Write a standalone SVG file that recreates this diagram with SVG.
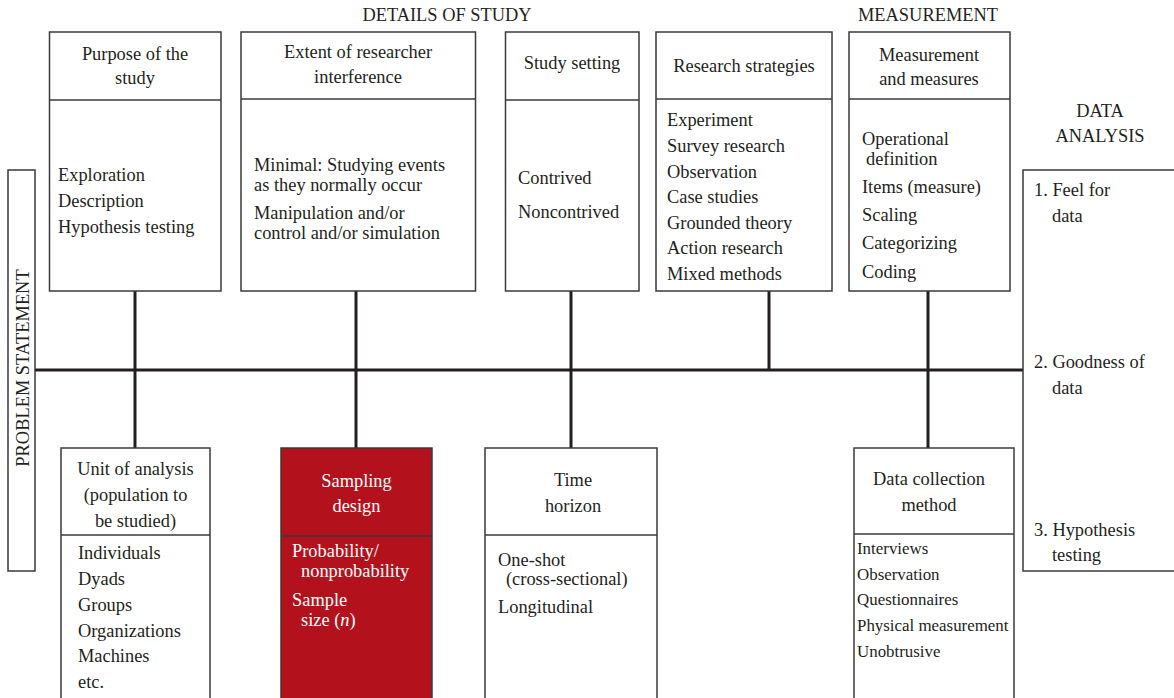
<svg xmlns="http://www.w3.org/2000/svg" width="1174" height="698" viewBox="0 0 1174 698">
<style>
text{font-family:"Liberation Serif","Times New Roman",serif;font-size:18.4px;fill:#231f20}
.c{text-anchor:middle}
.box{fill:#fff;stroke:#3a3a3a;stroke-width:1.5}
.div{stroke:#3a3a3a;stroke-width:1.5}
.red{fill:#b3121c;stroke:#3a3a3a;stroke-width:1.5}
.w{fill:#fff}
.sm{font-size:16.9px}
.conn{stroke:#231f20;stroke-width:3;fill:none}
</style>
<rect width="1174" height="698" fill="#fff"/>
<g id="headings">
<text class="c" x="447" y="21">DETAILS OF STUDY</text>
<text class="c" x="928" y="21">MEASUREMENT</text>
<text class="c" x="1100" y="117">DATA</text>
<text class="c" x="1100" y="142">ANALYSIS</text>
</g>
<g id="connectors">
<line class="conn" x1="35" y1="370" x2="1023" y2="370"/>
<line class="conn" x1="135" y1="291" x2="135" y2="448"/>
<line class="conn" x1="356" y1="291" x2="356" y2="448"/>
<line class="conn" x1="571" y1="291" x2="571" y2="448"/>
<line class="conn" x1="769" y1="291" x2="769" y2="370"/>
<line class="conn" x1="928" y1="291" x2="928" y2="448"/>
</g>
<g id="problem-statement">
<rect class="box" x="8" y="170" width="27" height="401"/>
<text class="c" transform="translate(29,368) rotate(-90)">PROBLEM STATEMENT</text>
</g>
<g id="purpose">
<rect class="box" x="49.5" y="32" width="171.5" height="259"/>
<line class="div" x1="49.5" y1="100" x2="221" y2="100"/>
<text class="c" x="135" y="60">Purpose of the</text>
<text class="c" x="135" y="84">study</text>
<text x="58" y="181">Exploration</text>
<text x="58" y="207">Description</text>
<text x="58" y="233">Hypothesis testing</text>
</g>
<g id="extent">
<rect class="box" x="241" y="32" width="234.5" height="259"/>
<line class="div" x1="241" y1="99" x2="475.5" y2="99"/>
<text class="c" x="358" y="58">Extent of researcher</text>
<text class="c" x="358" y="83">interference</text>
<text x="254" y="171">Minimal: Studying events</text>
<text x="254" y="191">as they normally occur</text>
<text x="254" y="219">Manipulation and/or</text>
<text x="254" y="239">control and/or simulation</text>
</g>
<g id="study-setting">
<rect class="box" x="505.5" y="32" width="133.5" height="259"/>
<line class="div" x1="505.5" y1="100" x2="639" y2="100"/>
<text class="c" x="572" y="69">Study setting</text>
<text x="518" y="184">Contrived</text>
<text x="518" y="218">Noncontrived</text>
</g>
<g id="research-strategies">
<rect class="box" x="656" y="32" width="176" height="259"/>
<line class="div" x1="656" y1="99" x2="832" y2="99"/>
<text class="c" x="744" y="72">Research strategies</text>
<text x="667" y="126">Experiment</text>
<text x="667" y="152">Survey research</text>
<text x="667" y="178">Observation</text>
<text x="667" y="203">Case studies</text>
<text x="667" y="229">Grounded theory</text>
<text x="667" y="254">Action research</text>
<text x="667" y="280">Mixed methods</text>
</g>
<g id="measurement">
<rect class="box" x="849" y="32" width="161" height="259"/>
<line class="div" x1="849" y1="99" x2="1010" y2="99"/>
<text class="c" x="929" y="61">Measurement</text>
<text class="c" x="929" y="85">and measures</text>
<text x="862" y="145">Operational</text>
<text x="866" y="165">definition</text>
<text x="862" y="193">Items (measure)</text>
<text x="862" y="221">Scaling</text>
<text x="862" y="249">Categorizing</text>
<text x="862" y="278">Coding</text>
</g>
<g id="data-analysis">
<rect class="box" x="1023" y="170" width="170" height="401"/>
<text x="1034" y="196">1. Feel for</text>
<text x="1052" y="222">data</text>
<text x="1034" y="368">2. Goodness of</text>
<text x="1052" y="394">data</text>
<text x="1034" y="536">3. Hypothesis</text>
<text x="1052" y="561">testing</text>
</g>
<g id="unit-of-analysis">
<rect class="box" x="61" y="448" width="149" height="270"/>
<line class="div" x1="61" y1="535" x2="210" y2="535"/>
<text class="c" x="135.5" y="475">Unit of analysis</text>
<text class="c" x="135.5" y="501">(population to</text>
<text class="c" x="135.5" y="527">be studied)</text>
<text x="78" y="559">Individuals</text>
<text x="78" y="585">Dyads</text>
<text x="78" y="611">Groups</text>
<text x="78" y="637">Organizations</text>
<text x="78" y="662">Machines</text>
<text x="78" y="688">etc.</text>
</g>
<g id="sampling-design">
<rect class="red" x="281" y="448" width="151" height="270"/>
<line class="div" x1="281" y1="536" x2="432" y2="536"/>
<text class="c w" x="356.5" y="487">Sampling</text>
<text class="c w" x="356.5" y="512">design</text>
<text class="w" x="292" y="557">Probability/</text>
<text class="w" x="301" y="577">nonprobability</text>
<text class="w" x="292" y="606">Sample</text>
<text class="w" x="301" y="626">size (<tspan font-style="italic">n</tspan>)</text>
</g>
<g id="time-horizon">
<rect class="box" x="485" y="448" width="172" height="270"/>
<line class="div" x1="485" y1="535" x2="657" y2="535"/>
<text class="c" x="573" y="486">Time</text>
<text class="c" x="573" y="512">horizon</text>
<text x="498" y="566">One-shot</text>
<text x="506" y="585">(cross-sectional)</text>
<text x="498" y="613">Longitudinal</text>
</g>
<g id="data-collection">
<rect class="box" x="854" y="448" width="160" height="270"/>
<line class="div" x1="854" y1="534" x2="1014" y2="534"/>
<text class="c" x="929" y="485">Data collection</text>
<text class="c" x="929" y="511">method</text>
<text class="sm" x="857" y="554">Interviews</text>
<text class="sm" x="857" y="580">Observation</text>
<text class="sm" x="857" y="605">Questionnaires</text>
<text class="sm" x="857" y="631">Physical measurement</text>
<text class="sm" x="857" y="657">Unobtrusive</text>
</g>
</svg>
